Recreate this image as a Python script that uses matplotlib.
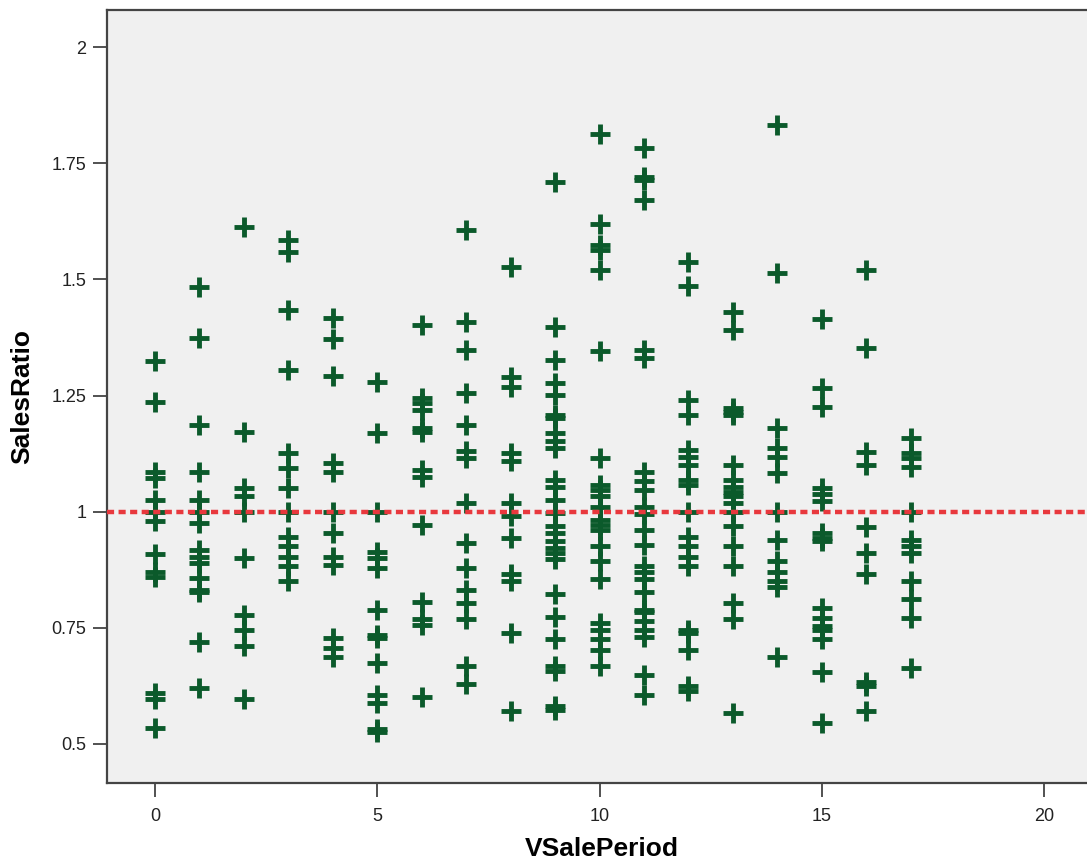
import matplotlib
matplotlib.use('Agg')
import matplotlib.pyplot as plt
import numpy as np

# sales ratio values, one list per sale period (0..17)
periods = list(range(18))
ratios = [
    [1.325, 1.237, 1.086, 1.073, 1.026, 1.0, 0.979, 0.908, 0.869, 0.86, 0.61, 0.596, 0.535],
    [1.484, 1.374, 1.187, 1.086, 1.026, 1.0, 0.976, 0.918, 0.903, 0.89, 0.858, 0.832, 0.826, 0.72, 0.62],
    [1.613, 1.172, 1.051, 1.033, 1.0, 0.9, 0.778, 0.746, 0.71, 0.596],
    [1.585, 1.56, 1.434, 1.305, 1.127, 1.095, 1.051, 1.0, 0.946, 0.925, 0.903, 0.882, 0.85],
    [1.417, 1.371, 1.292, 1.105, 1.086, 1.0, 0.954, 0.903, 0.886, 0.729, 0.707, 0.686],
    [1.28, 1.17, 1.0, 0.914, 0.9, 0.879, 0.789, 0.735, 0.729, 0.675, 0.606, 0.589, 0.531, 0.525],
    [1.402, 1.245, 1.234, 1.219, 1.18, 1.172, 1.09, 1.075, 0.972, 0.806, 0.768, 0.757, 0.6],
    [1.606, 1.409, 1.348, 1.256, 1.187, 1.13, 1.116, 1.019, 0.933, 0.879, 0.832, 0.804, 0.768, 0.667, 0.628],
    [1.527, 1.29, 1.269, 1.127, 1.108, 1.019, 0.99, 0.944, 0.865, 0.85, 0.739, 0.57],
    [1.71, 1.398, 1.327, 1.277, 1.252, 1.209, 1.202, 1.17, 1.151, 1.137, 1.069, 1.054, 1.026, 0.998,
     0.968, 0.954, 0.936, 0.922, 0.911, 0.897, 0.822, 0.774, 0.725, 0.667, 0.656, 0.581, 0.574],
    [1.814, 1.62, 1.574, 1.563, 1.52, 1.345, 1.116, 1.058, 1.047, 1.033, 1.011, 0.983, 0.972, 0.961,
     0.925, 0.893, 0.854, 0.761, 0.746, 0.725, 0.703, 0.667],
    [1.782, 1.72, 1.714, 1.671, 1.348, 1.33, 1.086, 1.065, 1.047, 1.011, 0.994, 0.961, 0.929, 0.882,
     0.869, 0.854, 0.828, 0.789, 0.783, 0.764, 0.746, 0.731, 0.649, 0.606],
    [1.538, 1.486, 1.241, 1.209, 1.133, 1.118, 1.101, 1.069, 1.058, 1.0, 0.946, 0.925, 0.903, 0.882,
     0.746, 0.739, 0.703, 0.624, 0.613],
    [1.43, 1.391, 1.224, 1.215, 1.209, 1.101, 1.069, 1.054, 1.043, 1.033, 1.019, 1.0, 0.968, 0.925,
     0.882, 0.804, 0.768, 0.567],
    [1.832, 1.514, 1.18, 1.137, 1.118, 1.083, 1.0, 0.94, 0.893, 0.871, 0.85, 0.837, 0.686],
    [1.415, 1.267, 1.226, 1.051, 1.037, 1.022, 0.954, 0.944, 0.936, 0.793, 0.772, 0.753, 0.746, 0.725,
     0.654, 0.546],
    [1.52, 1.352, 1.129, 1.101, 0.966, 0.911, 0.865, 0.634, 0.624, 0.57],
    [1.159, 1.127, 1.116, 1.097, 1.0, 0.94, 0.925, 0.911, 0.85, 0.811, 0.772, 0.664],
]
x_ticks = [0, 5, 10, 15, 20]
y_ticks = [0.5, 0.75, 1.0, 1.25, 1.5, 1.75, 2.0]
y_tick_labels = ['0.5', '0.75', '1', '1.25', '1.5', '1.75', '2']
ref_ratio = 1.0

x_vals = np.concatenate([[p] * len(r) for p, r in zip(periods, ratios)])
y_vals = np.concatenate(ratios)

plt.rcParams['font.family'] = ['Liberation Sans', 'DejaVu Sans']

fig = plt.figure(figsize=(10.87, 8.67), dpi=100)
ax = fig.add_axes([0.0984, 0.097, 0.91, 0.8915])
ax.set_facecolor('#f0f0f0')

ax.plot(x_vals, y_vals, linestyle='none', marker='+', markersize=15,
        markeredgewidth=3.5, color='#0b5a2b', zorder=3)
ax.axhline(ref_ratio, color='#e8383d', linewidth=3.2, linestyle=(0, (1.6, 1.0)), zorder=4)

ax.set_xlim(-1.08, 21.17)
ax.set_ylim(0.416, 2.08)
ax.set_xticks(x_ticks)
ax.set_yticks(y_ticks)
ax.set_yticklabels(y_tick_labels)
ax.tick_params(axis='both', direction='out', length=10, width=1.2, color='#333333',
               labelsize=13, labelcolor='#222222')
ax.tick_params(axis='x', pad=8)
ax.tick_params(axis='y', pad=5)
ax.tick_params(top=False, right=False)

for key, spine in ax.spines.items():
    spine.set_color('#444444')
    spine.set_linewidth(1.6)

ax.set_xlabel('VSalePeriod', fontsize=19, fontweight='bold', labelpad=9)
ax.set_ylabel('SalesRatio', fontsize=19, fontweight='bold', labelpad=12)

fig.savefig('out.png', dpi=100, facecolor='white')
